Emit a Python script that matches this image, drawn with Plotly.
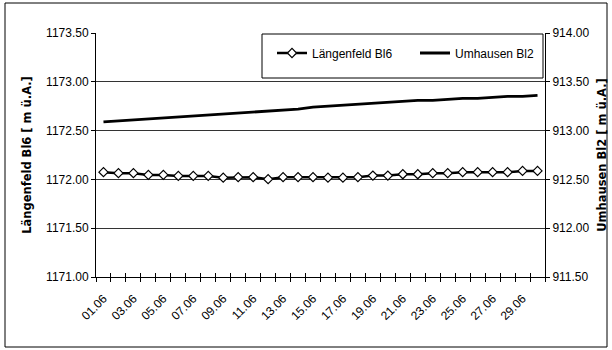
import plotly.graph_objects as go

days = [f"{d:02d}.06" for d in range(1, 31)]
laengenfeld = [1172.074, 1172.064, 1172.064, 1172.046, 1172.046, 1172.036, 1172.036, 1172.036,
               1172.018, 1172.023, 1172.023, 1172.002, 1172.023, 1172.023, 1172.023,
               1172.018, 1172.018, 1172.023, 1172.039, 1172.039, 1172.053, 1172.053,
               1172.064, 1172.064, 1172.074, 1172.074, 1172.074, 1172.074, 1172.087, 1172.087]
umhausen = [913.09, 913.10, 913.11, 913.12, 913.13, 913.14, 913.15, 913.16, 913.17, 913.18,
            913.19, 913.20, 913.21, 913.22, 913.24, 913.25, 913.26, 913.27, 913.28, 913.29,
            913.30, 913.31, 913.31, 913.32, 913.33, 913.33, 913.34, 913.35, 913.35, 913.36]
left_ticks = [1171.0, 1171.5, 1172.0, 1172.5, 1173.0, 1173.5]
right_ticks = [911.5, 912.0, 912.5, 913.0, 913.5, 914.0]

FONT = "Liberation Sans, Arial, sans-serif"
TFONT = "DejaVu Sans, sans-serif"
W, H = 612, 350
L, R, T, B = 96, 67, 33, 73
pw, ph = W - L - R, H - T - B

def px_x(p):
    return (p - L) / pw

def px_y(p):
    return (H - B - p) / ph

fig = go.Figure()
fig.add_trace(go.Scatter(
    x=days, y=laengenfeld, name="Längenfeld Bl6", mode="lines+markers",
    line=dict(color="black", width=2.5),
    marker=dict(symbol="diamond", size=7, color="white", line=dict(color="black", width=1.2)),
    xaxis="x", yaxis="y"))
fig.add_trace(go.Scatter(
    x=days, y=umhausen, name="Umhausen Bl2", mode="lines",
    line=dict(color="black", width=2.8),
    xaxis="x", yaxis="y2"))
# empty helper traces to create the tick-only overlay axes
fig.add_trace(go.Scatter(x=[], y=[], xaxis="x2", yaxis="y", showlegend=False, hoverinfo="skip"))
fig.add_trace(go.Scatter(x=[], y=[], xaxis="x3", yaxis="y", showlegend=False, hoverinfo="skip"))

n = len(days)
bounds = [i - 0.5 for i in range(n + 1)]

fig.update_layout(
    width=W, height=H,
    margin=dict(l=L, r=R, t=T, b=B, autoexpand=False),
    paper_bgcolor="white", plot_bgcolor="white",
    font=dict(family=FONT, size=12, color="black"),
    showlegend=True,
    legend=dict(orientation="h", x=px_x(272), xanchor="left", y=px_y(53), yanchor="middle",
                bgcolor="rgba(0,0,0,0)", borderwidth=0, entrywidth=98, entrywidthmode="pixels",
                font=dict(family=FONT, size=12), itemwidth=30),
    xaxis=dict(type="category", range=[-0.5, n - 0.5], tickmode="array", tickvals=days[::2],
               ticktext=days[::2], tickangle=-45, ticks="", showgrid=False, zeroline=False,
               showline=True, linecolor="black", linewidth=1, ticklabelstandoff=9,
               tickfont=dict(family=FONT, size=12)),
    xaxis2=dict(overlaying="x", anchor="y", range=[-0.5, n - 0.5], tickmode="array", tickvals=bounds,
                ticks="outside", ticklen=4, tickcolor="black", showticklabels=False,
                showgrid=False, zeroline=False, showline=False),
    xaxis3=dict(overlaying="x", anchor="y", range=[-0.5, n - 0.5], tickmode="array", tickvals=bounds,
                ticks="inside", ticklen=4, tickcolor="black", showticklabels=False,
                showgrid=False, zeroline=False, showline=False),
    yaxis=dict(range=[1171.0, 1173.5], tickmode="array", tickvals=left_ticks,
               ticktext=[f"{v:.2f}" for v in left_ticks], ticks="outside", ticklen=4,
               tickcolor="black", showline=True, linecolor="black", linewidth=1,
               showgrid=True, gridcolor="#333333", gridwidth=1, zeroline=False,
               tickfont=dict(family=FONT, size=12),
               title=dict(text="<b>Längenfeld Bl6 [ m ü.A.]</b>", standoff=12,
                          font=dict(family=TFONT, size=11.5))),
    yaxis2=dict(overlaying="y", side="right", anchor="x", range=[911.5, 914.0], tickmode="array",
                tickvals=right_ticks, ticktext=[f"{v:.2f}" for v in right_ticks],
                ticks="outside", ticklen=4, tickcolor="black", showline=True, linecolor="black",
                linewidth=1, showgrid=False, zeroline=False,
                tickfont=dict(family=FONT, size=12),
                title=dict(text="<b>Umhausen Bl2 [ m ü.A.]</b>", standoff=9,
                           font=dict(family=TFONT, size=11.5))),
    shapes=[
        dict(type="rect", xref="paper", yref="paper", x0=px_x(5), x1=px_x(607), y0=px_y(347), y1=px_y(3),
             line=dict(color="black", width=1), fillcolor="rgba(0,0,0,0)", layer="below"),
        dict(type="rect", xref="paper", yref="paper", x0=px_x(262), x1=px_x(543), y0=px_y(78), y1=px_y(34),
             line=dict(color="black", width=1), fillcolor="white", layer="above"),
    ],
)

fig.write_html("out.html")
